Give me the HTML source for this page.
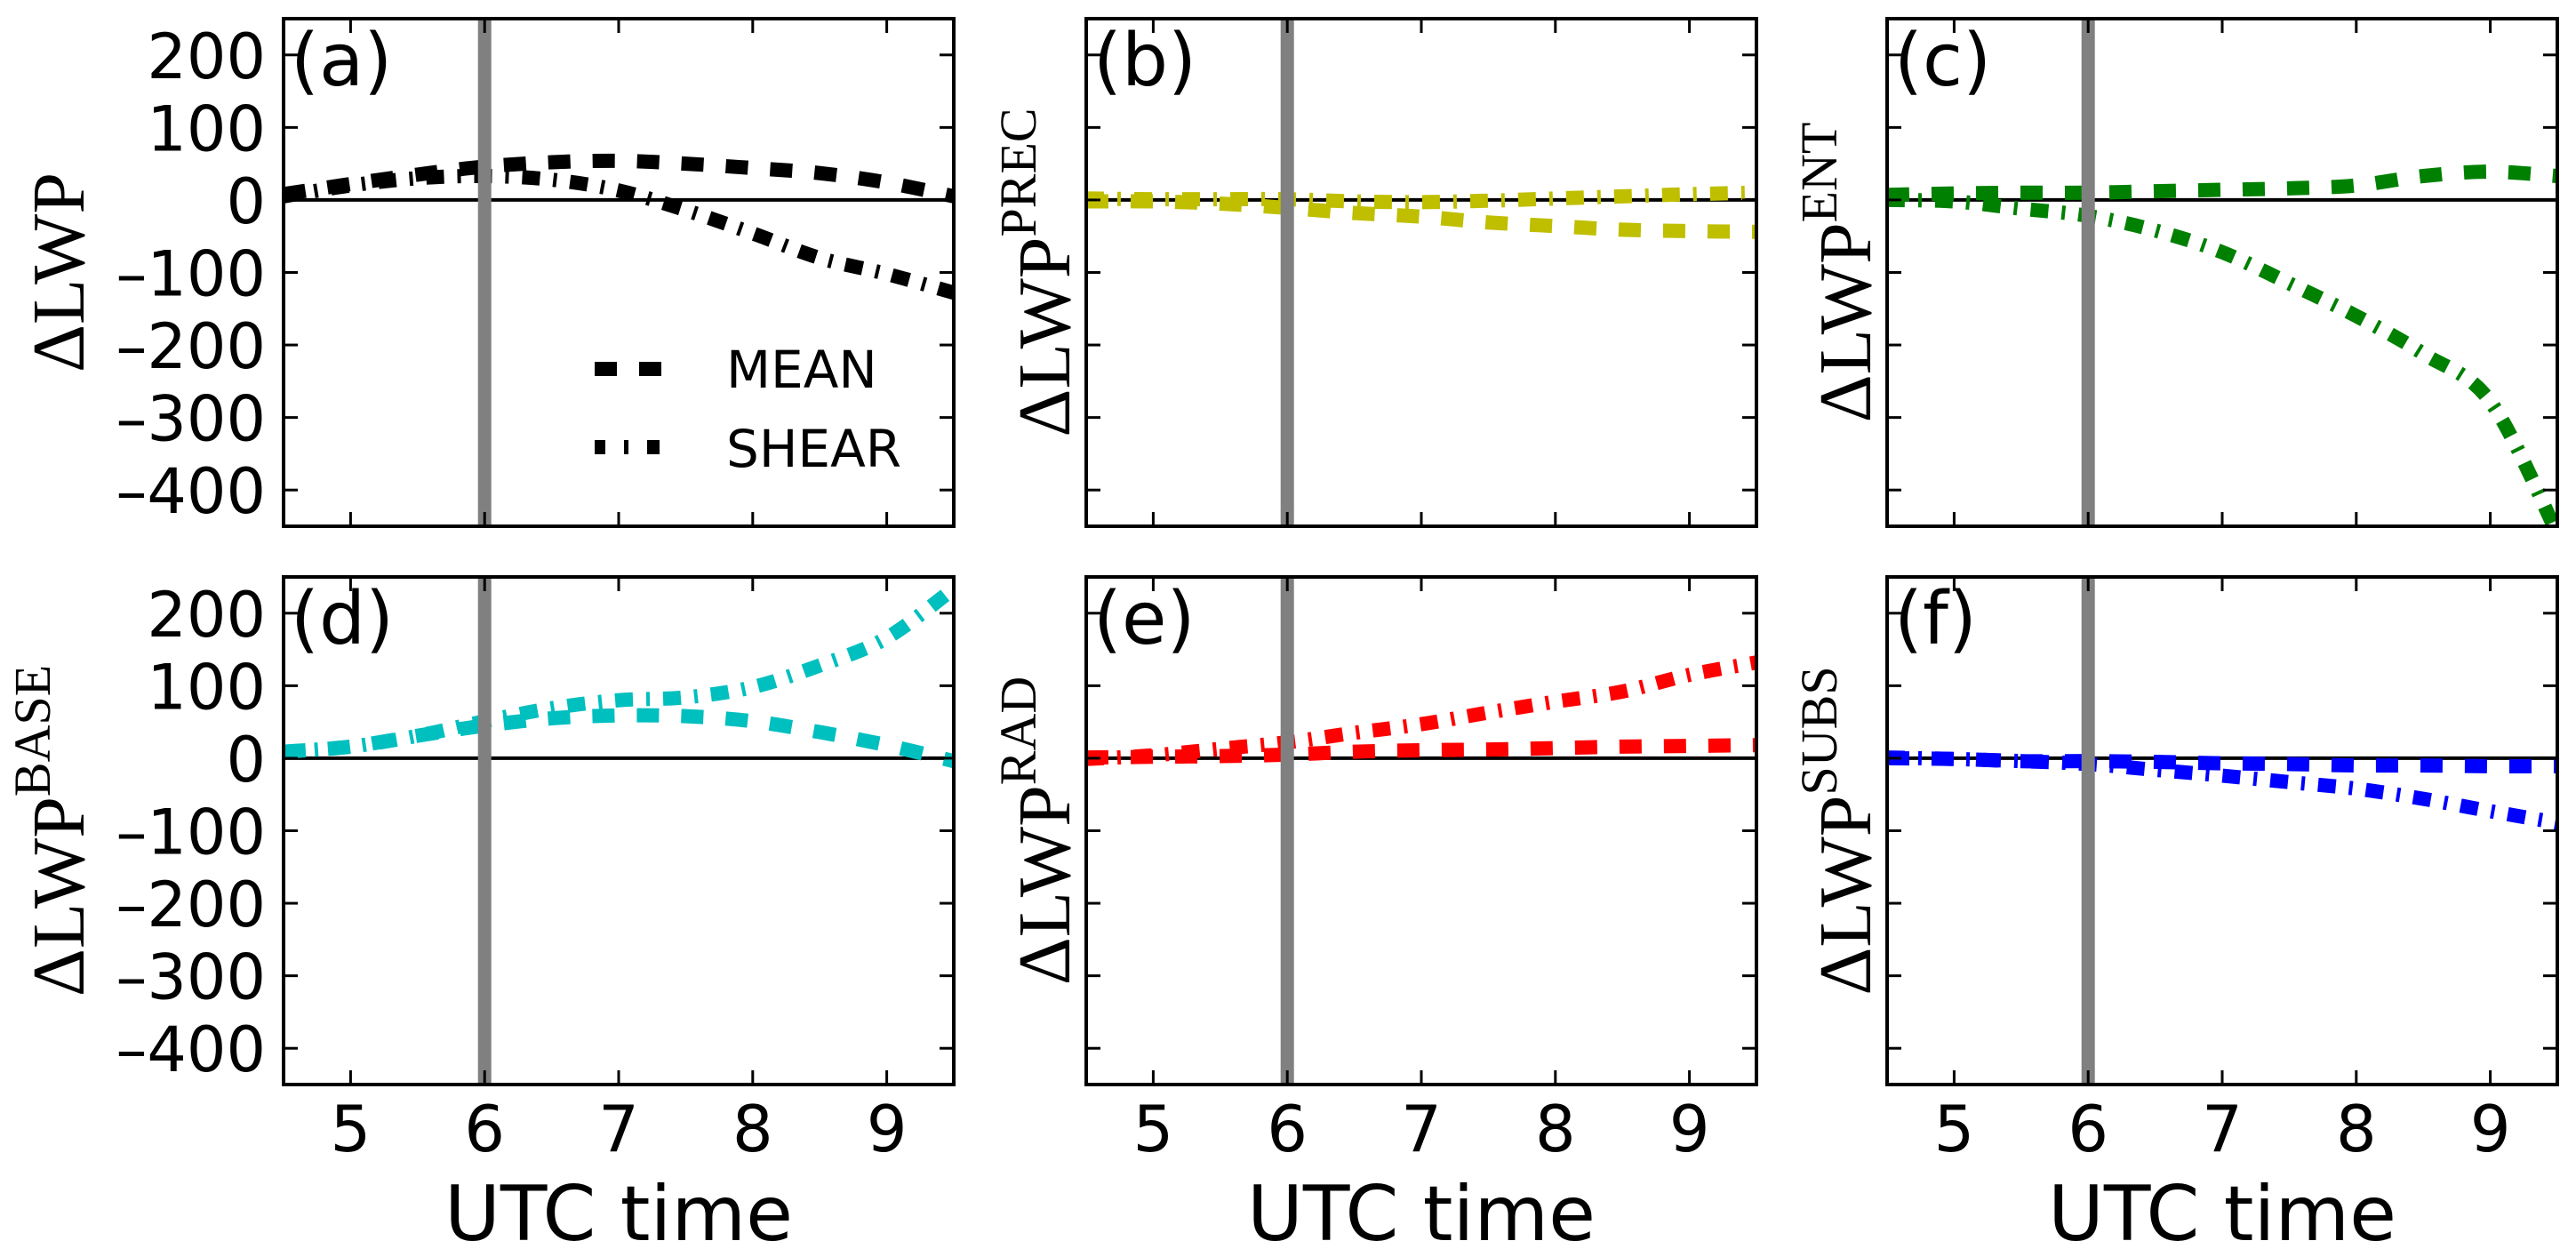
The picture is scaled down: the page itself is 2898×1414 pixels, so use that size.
<!DOCTYPE html>
<html><head><meta charset="utf-8">
<style>
html,body{margin:0;padding:0;background:#fff;}
svg{display:block;}
</style></head>
<body>
<svg id="fig" xmlns="http://www.w3.org/2000/svg" width="2898" height="1414" viewBox="0 0 2898 1414">
<rect x="0" y="0" width="2898" height="1414" fill="#fff"/>
</svg>
<script>
const times = [4.5,5,5.5,6,6.5,7,7.5,8,8.5,9,9.5];
const meanA  = [8,22,35,46,52,54,50,44,37,24,5];
const shearA = [5,20,30,33,28,13,-14,-46,-80,-102,-128];
const meanB  = [-2,-2,-5,-11,-18,-23,-31,-36,-41,-43,-44];
const shearB = [2,1,1,1,-2,-3,-1,2,5,8,10];
const meanC  = [7,9,10,10,12,14,16,20,33,39,33];
const shearC = [0,-2,-12,-22,-42,-72,-115,-160,-212,-278,-460];
const meanD  = [9,16,31,45,55,59,58,51,36,18,-4];
const shearD = [9,16,31,51,69,80,84,98,128,166,234];
const meanE  = [1,2,3,5,9,11,12,14,16,17,18];
const shearE = [-1,4,13,22,35,47,63,78,92,115,132];
const meanF  = [0,-1,-4,-4,-5,-7,-8,-10,-10,-11,-11];
const shearF = [1,-1,-4,-8,-16,-24,-33,-42,-56,-73,-89];
const xTicks = [5,6,7,8,9];
const yTicks = [200,100,0,-100,-200,-300,-400];
const panelLetters = ['(a)','(b)','(c)','(d)','(e)','(f)'];
const panelSupers = ['','PREC','ENT','BASE','RAD','SUBS'];
const panelColors = ['#000000','#bfbf00','#008000','#00bfbf','#ff0000','#0000ff'];
const meanSeries = [meanA,meanB,meanC,meanD,meanE,meanF];
const shearSeries = [shearA,shearB,shearC,shearD,shearE,shearF];
const markTime = 6;

const NS='http://www.w3.org/2000/svg';
const svg=document.getElementById('fig');
const colX=[319,1222,2123], rowY=[21,649], PW=754, PH=571;
const XMIN=4.5, XMAX=9.5, YMIN=-450, YMAX=250;
function mk(tag,attrs,parent){const e=document.createElementNS(NS,tag);for(const k in attrs)e.setAttribute(k,attrs[k]);(parent||svg).appendChild(e);return e;}
function smoothPath(pts){
  let d='M'+pts[0][0].toFixed(2)+','+pts[0][1].toFixed(2);
  for(let i=0;i<pts.length-1;i++){
    const p0=pts[Math.max(0,i-1)],p1=pts[i],p2=pts[i+1],p3=pts[Math.min(pts.length-1,i+2)];
    const c1=[p1[0]+(p2[0]-p0[0])/6,p1[1]+(p2[1]-p0[1])/6];
    const c2=[p2[0]-(p3[0]-p1[0])/6,p2[1]-(p3[1]-p1[1])/6];
    d+=' C'+c1[0].toFixed(2)+','+c1[1].toFixed(2)+' '+c2[0].toFixed(2)+','+c2[1].toFixed(2)+' '+p2[0].toFixed(2)+','+p2[1].toFixed(2);
  }
  return d;
}
const defs=mk('defs',{});
for(let p=0;p<6;p++){
  const r=Math.floor(p/3), c=p%3;
  const x0=colX[c], y0=rowY[r];
  const xs=t=>x0+(t-XMIN)/(XMAX-XMIN)*PW;
  const ys=v=>y0+(YMAX-v)/(YMAX-YMIN)*PH;
  const g=mk('g',{});
  
  
  const cp=mk('clipPath',{id:'clip'+p},defs);
  mk('rect',{x:x0,y:y0,width:PW,height:PH},cp);
  const z=mk('line',{x1:x0,x2:x0+PW,y1:ys(0),y2:ys(0),stroke:'#000','stroke-width':4},g);
  
  
  const dg=mk('g',{'clip-path':'url(#clip'+p+')'},g);
  const mPts=times.map((t,i)=>[xs(t),ys(meanSeries[p][i])]);
  const sPts=times.map((t,i)=>[xs(t),ys(shearSeries[p][i])]);
  const sl=mk('path',{d:smoothPath(sPts),fill:'none',stroke:panelColors[p],'stroke-width':16,'stroke-dasharray':'20 15 4 15','stroke-linecap':'butt'},dg);
  
  
  const ml=mk('path',{d:smoothPath(mPts),fill:'none',stroke:panelColors[p],'stroke-width':16,'stroke-dasharray':'25 25','stroke-linecap':'butt'},dg);
  
  
  const vl=mk('line',{x1:xs(markTime),x2:xs(markTime),y1:y0,y2:y0+PH,stroke:'#808080','stroke-width':15},g);
  
  
  xTicks.forEach(t=>{
    mk('line',{x1:xs(t),x2:xs(t),y1:y0,y2:y0+16,stroke:'#000','stroke-width':3},g);
    mk('line',{x1:xs(t),x2:xs(t),y1:y0+PH,y2:y0+PH-16,stroke:'#000','stroke-width':3},g);
    if(r===1){
      const tl=mk('text',{x:xs(t),y:y0+PH+75,'text-anchor':'middle','font-family':'DejaVu Sans, Liberation Sans, sans-serif','font-size':72},g);
      tl.textContent=String(t);
      
      
    }
  });
  yTicks.forEach(v=>{
    mk('line',{x1:x0,x2:x0+16,y1:ys(v),y2:ys(v),stroke:'#000','stroke-width':3},g);
    mk('line',{x1:x0+PW,x2:x0+PW-16,y1:ys(v),y2:ys(v),stroke:'#000','stroke-width':3},g);
    if(c===0){
      const tl=mk('text',{x:x0-20,y:ys(v)+26,'text-anchor':'end','font-family':'DejaVu Sans, Liberation Sans, sans-serif','font-size':70},g);
      tl.textContent=(v<0?'\u2013':'')+Math.abs(v);
      
      
    }
  });
  const fr=mk('rect',{x:x0,y:y0,width:PW,height:PH,fill:'none',stroke:'#000','stroke-width':4},g);
  
  
  const pl=mk('text',{x:x0+8,y:y0+75,'font-family':'DejaVu Sans, Liberation Sans, sans-serif','font-size':82},g);
  pl.textContent=panelLetters[p];
  
  
  const bx = c===0 ? x0-225 : x0-19;
  const cy = y0+PH/2;
  const yl=mk('text',{x:0,y:0,'text-anchor':'middle','font-family':'Liberation Serif, DejaVu Serif, serif','font-size':84,transform:'translate('+bx+','+cy+') rotate(-90)'},g);
  
  
  const t1=mk('tspan',{},yl); t1.textContent='\u0394LWP';
  if(panelSupers[p]){const t2=mk('tspan',{'font-size':58,dy:-38},yl); t2.textContent=panelSupers[p];}
  if(r===1){
    const xl=mk('text',{x:x0+PW/2,y:y0+PH+175,'text-anchor':'middle','font-family':'DejaVu Sans, Liberation Sans, sans-serif','font-size':86},g);
    xl.textContent='UTC time';
    
    
  }
  if(p===0){
    const lg=mk('g',{},g);
    
    
    const l1=mk('line',{x1:669,x2:745,y1:415,y2:415,stroke:'#000','stroke-width':16,'stroke-dasharray':'25 25'},lg);
    
    
    const tx1=mk('text',{x:817,y:436,'font-family':'DejaVu Sans, Liberation Sans, sans-serif','font-size':58},lg);
    tx1.textContent='MEAN';
    
    
    const l2=mk('line',{x1:669,x2:745,y1:503,y2:503,stroke:'#000','stroke-width':16,'stroke-dasharray':'12 21 5 21 14 100'},lg);
    
    
    const tx2=mk('text',{x:817,y:525,'font-family':'DejaVu Sans, Liberation Sans, sans-serif','font-size':58},lg);
    tx2.textContent='SHEAR';
    
    
  }
}
</script>
</body></html>
